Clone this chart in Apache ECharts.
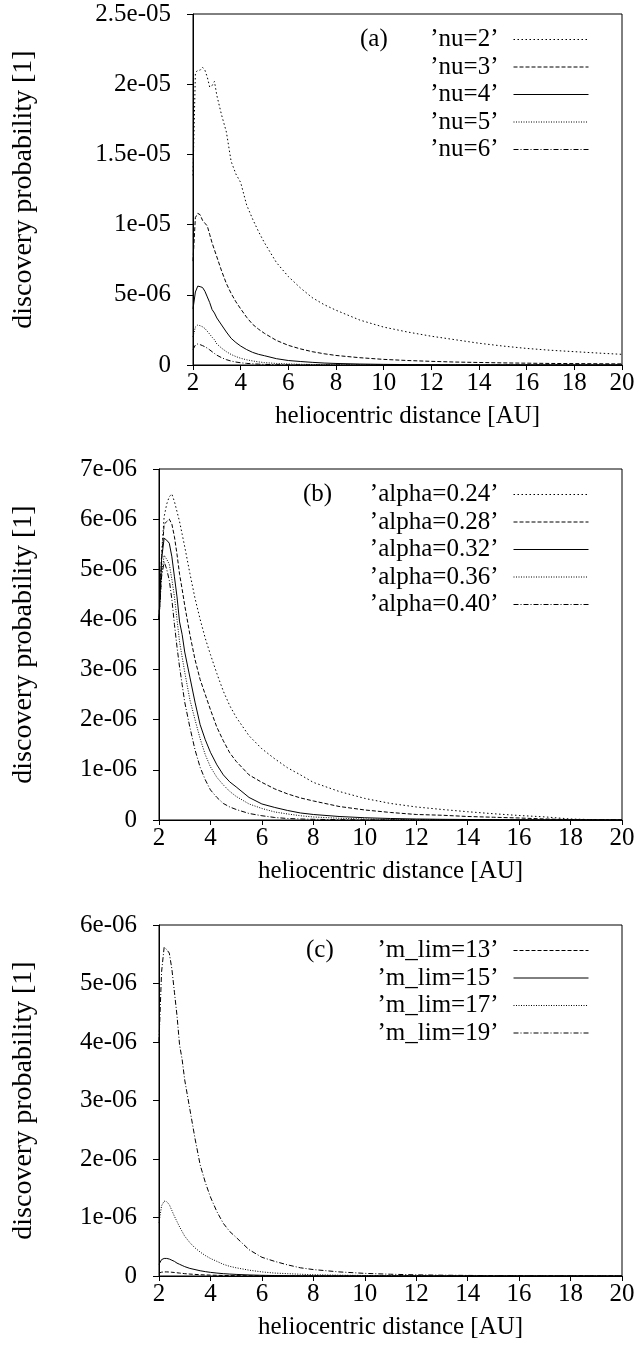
<!DOCTYPE html>
<html><head><meta charset="utf-8">
<script src="https://cdn.jsdelivr.net/npm/echarts@6/dist/echarts.min.js"></script>
<style>html,body{margin:0;padding:0;background:#fff}#c{width:641px;height:1369px}</style>
</head><body><div id="c"></div>
<script>
// heliocentric distance [AU]
const distance = [2.0,2.1,2.2,2.3,2.4,2.5,2.6,2.7,2.8,2.9,3.0, 3.2,3.4,3.6,3.8,4.0, 4.25,4.5,4.75,5.0, 5.5,6.0,6.5,7.0,7.5,8.0, 9,10,11,12,13,14,15,16,17,18,19,20];
// all probability arrays are in units of 1e-6
const UNIT = 1e-6;
// baseline curve: nu=4, alpha=0.32, m_lim=19
const base = [4.0,5.2,5.62,5.58,5.52,5.25,4.85,4.45,3.95,3.7,3.35, 2.85,2.35,1.9,1.6,1.35, 1.1,0.9,0.76,0.66, 0.45,0.32,0.25,0.19,0.14,0.11, 0.07,0.045,0.03,0.02,0.014,0.01,0.007,0.005,0.004,0.003,0.0025,0.002];
// panel (a)
const nu2 = [13.5,20.8,21.0,21.0,21.2,21.0,20.5,19.8,19.9,20.2,19.2, 17.8,16.6,14.5,13.6,13.0, 11.4,10.4,9.5,8.7, 7.3,6.3,5.5,4.8,4.3,3.9, 3.2,2.7,2.35,2.05,1.8,1.55,1.35,1.18,1.05,0.95,0.85,0.76];
const nu3 = [7.4,10.5,10.8,10.7,10.3,10.1,9.9,9.3,8.7,8.2,7.7, 6.7,5.8,5.1,4.5,4.0, 3.4,2.9,2.55,2.25, 1.75,1.4,1.15,0.95,0.8,0.68, 0.52,0.4,0.32,0.26,0.21,0.18,0.15,0.13,0.11,0.1,0.09,0.08];
const nu4 = base;
const nu5 = [2.0,2.7,2.85,2.8,2.72,2.6,2.4,2.2,1.98,1.8,1.5, 1.2,0.95,0.75,0.6,0.48, 0.37,0.29,0.22,0.17, 0.11,0.075,0.05,0.035,0.025,0.018, 0.01,0.006,0.004,0.003,0.002,0.0015,0.001,0.001,0.001,0.0005,0.0005,0.0005];
const nu6 = [1.1,1.42,1.5,1.45,1.38,1.3,1.2,1.08,0.95,0.82,0.7, 0.52,0.38,0.28,0.21,0.16, 0.115,0.085,0.062,0.045, 0.025,0.015,0.009,0.006,0.004,0.003, 0.0015,0.001,0.0005,0.0005,0.0003,0.0003,0.0002,0.0002,0.0001,0.0001,0.0001,0.0001];
// panel (b)
const alpha24 = [4.0,5.3,6.05,6.3,6.45,6.5,6.35,6.15,5.95,5.7,5.45, 4.92,4.42,4.0,3.62,3.3, 2.92,2.57,2.28,2.05, 1.68,1.42,1.22,1.04,0.9,0.75, 0.57,0.43,0.33,0.26,0.21,0.165,0.125,0.09,0.062,0.02,0.005,0.002];
const alpha28 = [4.0,5.2,5.9,5.95,6.0,5.9,5.65,5.3,4.9,4.6,4.28, 3.7,3.2,2.8,2.5,2.2, 1.85,1.58,1.34,1.17, 0.9,0.75,0.62,0.52,0.44,0.38, 0.27,0.2,0.15,0.11,0.095,0.07,0.055,0.04,0.02,0.008,0.003,0.001];
const alpha32 = base;
const alpha36 = [4.0,4.9,5.28,5.2,5.1,4.8,4.45,4.0,3.55,3.25,2.95, 2.4,2.0,1.62,1.3,1.06, 0.85,0.7,0.57,0.47, 0.32,0.23,0.16,0.12,0.085,0.06, 0.035,0.02,0.012,0.008,0.005,0.003,0.002,0.0015,0.001,0.001,0.0005,0.0005];
const alpha40 = [4.0,4.85,5.15,5.0,4.78,4.4,3.9,3.45,3.05,2.7,2.35, 1.85,1.4,1.05,0.8,0.6, 0.45,0.33,0.26,0.21, 0.13,0.085,0.05,0.03,0.02,0.014, 0.007,0.004,0.002,0.001,0.0007,0.0005,0.0003,0.0002,0.0002,0.0001,0.0001,0.0001];
// panel (c)
const mlim13 = [0.05,0.065,0.07,0.07,0.068,0.064,0.06,0.055,0.05,0.045,0.04, 0.033,0.027,0.022,0.018,0.015, 0.012,0.009,0.007,0.006, 0.004,0.003,0.002,0.0015,0.001,0.001, 0.0005,0.0005,0.0003,0.0003,0.0002,0.0002,0.0002,0.0001,0.0001,0.0001,0.0001,0.0001];
const mlim15 = [0.2,0.28,0.3,0.3,0.29,0.27,0.25,0.22,0.2,0.18,0.16, 0.13,0.11,0.09,0.075,0.062, 0.05,0.04,0.033,0.027, 0.018,0.012,0.008,0.006,0.004,0.003, 0.002,0.0015,0.001,0.001,0.0005,0.0005,0.0005,0.0003,0.0003,0.0002,0.0002,0.0002];
const mlim17 = [0.91,1.2,1.28,1.27,1.22,1.12,1.02,0.93,0.84,0.76,0.68, 0.57,0.48,0.41,0.35,0.3, 0.25,0.2,0.165,0.14, 0.1,0.07,0.05,0.04,0.03,0.022, 0.014,0.009,0.006,0.004,0.003,0.002,0.0015,0.001,0.001,0.0005,0.0005,0.0005];
const mlim19 = base;

const namesA = ["’nu=2’","’nu=3’","’nu=4’","’nu=5’","’nu=6’"];
const namesB = ["’alpha=0.24’","’alpha=0.28’","’alpha=0.32’","’alpha=0.36’","’alpha=0.40’"];
const namesC = ["’m_lim=13’","’m_lim=15’","’m_lim=17’","’m_lim=19’"];
const panelLabels = ['(a)','(b)','(c)'];
const xMin = 2, xMax = 20, xStep = 2;
const yMaxes = [2.5e-5, 7e-6, 6e-6];
const ySteps = [5e-6, 1e-6, 1e-6];
const xTitle = 'heliocentric distance [AU]';
const yTitle = 'discovery probability [1]';

const FONT = '"Liberation Serif","Times New Roman",serif';
const FS = 25;
const DOT = [1.5, 2.5], DASH = [4, 2], FINE = [1, 1.5], DASHDOT = [5, 2, 1, 2];
const stylesAB = [DOT, DASH, 'solid', FINE, DASHDOT];
const stylesC = [DASH, 'solid', FINE, DASHDOT];

function fmt(v) {
  if (Math.abs(v) < 1e-15) return '0';
  const s = Number(v.toPrecision(6)).toExponential();
  return s.replace(/e([+-])(\d)$/, (m, a, b) => 'e' + a + '0' + b);
}

const layout = [
  {left: 193, top: 14, yNameGap: 155, labelLeft: 360},
  {left: 159, top: 469, yNameGap: 121, labelLeft: 303},
  {left: 159, top: 925, yNameGap: 121, labelLeft: 306}
];
const H = 351;

const panels = [
  {names: namesA, data: [nu2, nu3, nu4, nu5, nu6], styles: stylesAB},
  {names: namesB, data: [alpha24, alpha28, alpha32, alpha36, alpha40], styles: stylesAB},
  {names: namesC, data: [mlim13, mlim15, mlim17, mlim19], styles: stylesC}
];

const grid = [], xAxis = [], yAxis = [], series = [], legend = [], title = [];
panels.forEach((p, i) => {
  const L = layout[i];
  grid.push({left: L.left, right: 19, top: L.top, height: H, show: true, borderColor: '#000', borderWidth: 1, backgroundColor: 'transparent', containLabel: false, outerBoundsMode: 'none'});
  xAxis.push({
    type: 'value', gridIndex: i, min: xMin, max: xMax, interval: xStep,
    axisLine: {show: true, onZero: false, lineStyle: {color: '#000', width: 1}},
    axisTick: {show: true, inside: false, length: 5, lineStyle: {color: '#000', width: 1}},
    axisLabel: {color: '#000', fontFamily: FONT, fontSize: FS, margin: 6},
    splitLine: {show: false},
    name: xTitle, nameLocation: 'middle', nameGap: 39,
    nameTextStyle: {color: '#000', fontFamily: FONT, fontSize: FS}
  });
  yAxis.push({
    type: 'value', gridIndex: i, min: 0, max: yMaxes[i], interval: ySteps[i],
    axisLine: {show: true, lineStyle: {color: '#000', width: 1}},
    axisTick: {show: true, inside: false, length: 6, lineStyle: {color: '#000', width: 1}},
    axisLabel: {color: '#000', fontFamily: FONT, fontSize: FS, margin: 22, formatter: fmt},
    splitLine: {show: false},
    name: yTitle, nameLocation: 'middle', nameRotate: 90, nameGap: L.yNameGap,
    nameTextStyle: {color: '#000', fontFamily: FONT, fontSize: 28}
  });
  p.names.forEach((n, k) => {
    series.push({
      type: 'line', name: n, xAxisIndex: i, yAxisIndex: i,
      data: distance.map((x, j) => [x, p.data[k][j] * UNIT]),
      symbol: 'none', showSymbol: false, smooth: false, silent: true,
      lineStyle: {color: '#000', width: 1, type: p.styles[k]},
      itemStyle: {color: '#000'},
      animation: false
    });
  });
  legend.push({
    data: p.names, orient: 'vertical', right: 52, top: L.top + 13, align: 'right',
    itemWidth: 75, itemHeight: 10, itemGap: 2.5, padding: 0, selectedMode: false,
    textStyle: {color: '#000', fontFamily: FONT, fontSize: FS, lineHeight: 25, padding: [0, 10, 0, 0]},
    itemStyle: {opacity: 0, borderWidth: 0},
    lineStyle: {width: 1, opacity: 1}
  });
  title.push({text: panelLabels[i], left: L.labelLeft, top: L.top + 13, padding: 0,
    textStyle: {color: '#000', fontFamily: FONT, fontSize: FS, fontWeight: 'normal', lineHeight: 25}});
});

const chart = echarts.init(document.getElementById('c'), null, {renderer: 'canvas'});
chart.setOption({
  backgroundColor: '#fff', animation: false,
  title, grid, xAxis, yAxis, series, legend
});
</script>
</body></html>
